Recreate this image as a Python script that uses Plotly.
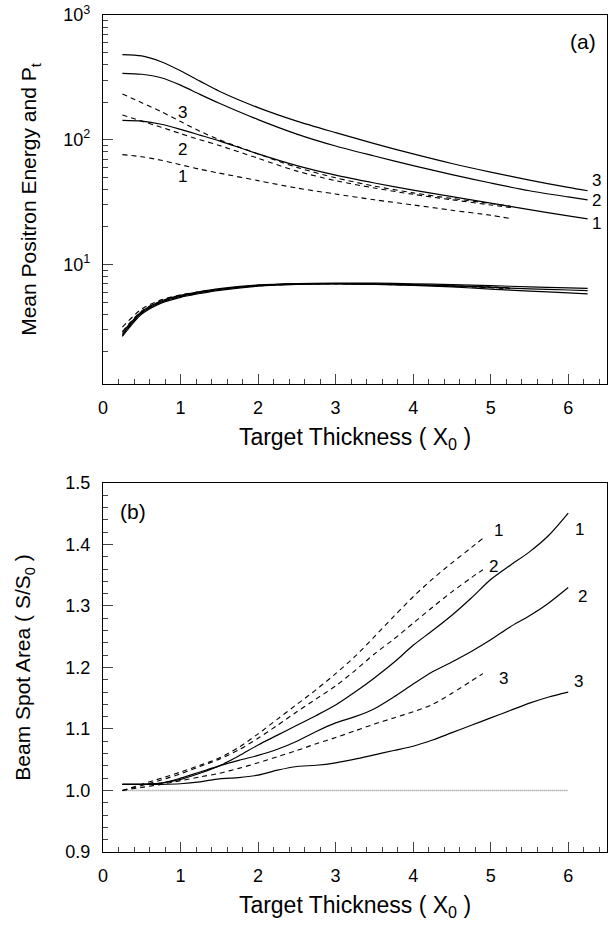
import plotly.graph_objects as go
import math

# ---------------- Data: panel (a) ----------------
x_e_solid = [0.25, 0.5, 0.75, 1.0, 1.25, 1.5, 2.0, 2.5, 3.0, 3.5, 4.0, 4.5, 5.0, 5.5, 6.0, 6.25]
e_solid_1 = [143, 141, 133, 121, 109, 98, 77, 62, 52, 45, 39.5, 35, 31, 27.5, 24.5, 23.2]
e_solid_2 = [341, 335, 314, 274, 231, 196, 145, 111, 89, 74, 62, 52.5, 45, 39, 34.8, 33]
e_solid_3 = [482, 470, 422, 357, 295, 245, 181, 141, 114, 93, 77, 64.5, 55, 47.5, 41.5, 39]

x_e_dash = [0.25, 0.5, 0.75, 1.0, 1.25, 1.5, 2.0, 2.5, 3.0, 3.5, 4.0, 4.5, 5.0, 5.26]
e_dash_1 = [76, 73, 68.5, 63, 58, 54, 47, 41, 36.7, 33, 30, 27.2, 24.8, 23.3]
e_dash_2 = [158, 141, 126, 112, 100, 90, 71, 56, 47, 41, 36.5, 33, 30, 28.6]
e_dash_3 = [233, 198, 168, 140, 117, 100, 77, 60, 49.5, 42.5, 37.5, 33.8, 30.8, 29.3]

x_pt_solid = [0.25, 0.5, 0.75, 1.0, 1.25, 1.5, 2.0, 2.5, 3.0, 3.5, 4.0, 4.5, 5.0, 5.5, 6.0, 6.25]
pt_solid_1 = [2.65, 4.0, 4.9, 5.45, 5.85, 6.2, 6.7, 6.92, 6.98, 6.93, 6.8, 6.6, 6.35, 6.12, 5.92, 5.8]
pt_solid_2 = [2.75, 4.1, 5.0, 5.55, 5.95, 6.3, 6.78, 6.98, 7.04, 7.0, 6.9, 6.75, 6.57, 6.38, 6.24, 6.17]
pt_solid_3 = [2.85, 4.2, 5.1, 5.65, 6.05, 6.4, 6.85, 7.04, 7.1, 7.08, 7.0, 6.9, 6.76, 6.62, 6.5, 6.44]

x_pt_dash = [0.25, 0.5, 0.75, 1.0, 1.25, 1.5, 2.0, 2.5, 3.0, 3.5, 4.0, 4.5, 5.0, 5.25]
pt_dash_1 = [3.15, 4.4, 5.2, 5.7, 6.05, 6.35, 6.8, 6.98, 7.0, 6.95, 6.85, 6.7, 6.5, 6.4]
pt_dash_2 = [2.9, 4.25, 5.1, 5.6, 6.0, 6.3, 6.77, 6.96, 7.0, 6.95, 6.85, 6.7, 6.55, 6.45]
pt_dash_3 = [2.7, 4.1, 5.0, 5.5, 5.9, 6.25, 6.73, 6.94, 6.98, 6.93, 6.85, 6.72, 6.6, 6.5]

# ---------------- Data: panel (b) ----------------
x_s_solid = [0.25, 0.5, 0.75, 1.0, 1.25, 1.5, 1.75, 2.0, 2.25, 2.5, 2.75, 3.0, 3.25, 3.5,
             3.75, 4.0, 4.25, 4.5, 4.75, 5.0, 5.25, 5.5, 5.75, 6.0]
s_solid_1 = [1.01, 1.01, 1.012, 1.018, 1.028, 1.04, 1.056, 1.074, 1.09, 1.106, 1.122, 1.139,
             1.16, 1.183, 1.208, 1.236, 1.26, 1.285, 1.313, 1.343, 1.366, 1.388, 1.415, 1.451]
s_solid_2 = [1.01, 1.01, 1.012, 1.02, 1.03, 1.04, 1.049, 1.057, 1.067, 1.08, 1.096, 1.11,
             1.12, 1.133, 1.152, 1.173, 1.193, 1.209, 1.226, 1.245, 1.266, 1.284, 1.305, 1.33]
s_solid_3 = [1.01, 1.01, 1.01, 1.011, 1.014, 1.019, 1.021, 1.025, 1.033, 1.039, 1.041, 1.045,
             1.051, 1.058, 1.065, 1.072, 1.082, 1.094, 1.106, 1.118, 1.13, 1.142, 1.152, 1.16]

x_s_dash = [0.25, 0.5, 0.75, 1.0, 1.25, 1.5, 1.75, 2.0, 2.25, 2.5, 2.75, 3.0, 3.25, 3.5,
            3.75, 4.0, 4.25, 4.5, 4.75, 4.9]
s_dash_1 = [1.0, 1.01, 1.02, 1.03, 1.041, 1.053, 1.07, 1.092, 1.116, 1.14, 1.164, 1.19,
            1.218, 1.25, 1.283, 1.315, 1.344, 1.37, 1.395, 1.41]
s_dash_2 = [1.0, 1.008, 1.017, 1.027, 1.039, 1.051, 1.066, 1.085, 1.106, 1.128, 1.149, 1.17,
            1.195, 1.222, 1.246, 1.272, 1.298, 1.323, 1.346, 1.359]
s_dash_3 = [1.0, 1.005, 1.01, 1.016, 1.022, 1.028, 1.036, 1.045, 1.055, 1.065, 1.076, 1.086,
            1.097, 1.108, 1.118, 1.128, 1.14, 1.158, 1.178, 1.19]

x_ref = [0.25, 6.0]
s_ref = [1.0, 1.0]

FONT = "Liberation Sans, Arial, sans-serif"
SOLID = dict(color="black", width=1.2, smoothing=0.8)
DASH = dict(color="black", width=1.1, dash="5px,4px", smoothing=0.8)

fig = go.Figure()

def add(x, y, line, xa, ya):
    fig.add_trace(go.Scatter(x=x, y=y, mode="lines", line=line, xaxis=xa, yaxis=ya,
                             line_shape="spline", showlegend=False, hoverinfo="skip"))

for ys in (e_solid_1, e_solid_2, e_solid_3):
    add(x_e_solid, ys, SOLID, "x", "y")
for ys in (e_dash_1, e_dash_2, e_dash_3):
    add(x_e_dash, ys, DASH, "x", "y")
for ys in (pt_solid_1, pt_solid_2, pt_solid_3):
    add(x_pt_solid, ys, SOLID, "x", "y")
for ys in (pt_dash_1, pt_dash_2, pt_dash_3):
    add(x_pt_dash, ys, DASH, "x", "y")

fig.add_trace(go.Scatter(x=x_ref, y=s_ref, mode="lines", xaxis="x2", yaxis="y2",
                         line=dict(color="#888888", width=1.5, dash="1px,1px"),
                         showlegend=False, hoverinfo="skip"))
for ys in (s_solid_1, s_solid_2, s_solid_3):
    add(x_s_solid, ys, SOLID, "x2", "y2")
for ys in (s_dash_1, s_dash_2, s_dash_3):
    add(x_s_dash, ys, DASH, "x2", "y2")

tickfont = dict(family=FONT, size=18, color="black")
xtitlefont = dict(family=FONT, size=23, color="black")
ytitlefont = dict(family=FONT, size=21, color="black")

xcommon = dict(range=[0, 6.5], dtick=1, tick0=0, ticks="inside", ticklen=10, tickwidth=1.2,
               showline=True, linecolor="black", linewidth=1.3, mirror=True,
               showgrid=False, zeroline=False, tickfont=tickfont, automargin=False,
               ticklabelstandoff=7,
               minor=dict(ticks="inside", ticklen=5, dtick=0.2, tickwidth=1.1, showgrid=False))

fig.update_layout(
    width=612, height=928,
    margin=dict(l=103, r=5, t=15, b=76),
    paper_bgcolor="white", plot_bgcolor="white",
    font=dict(family=FONT, color="black"),
    xaxis=dict(xcommon, anchor="y", domain=[0, 1],
               title=dict(text="Target Thickness ( X<sub>0</sub> )", font=xtitlefont, standoff=12)),
    yaxis=dict(type="log", range=[math.log10(1.1), 3], domain=[0.5591, 1], anchor="x",
               tickvals=[10, 100, 1000], ticktext=["10<sup>1</sup>", "10<sup>2</sup>", "10<sup>3</sup>"],
               ticks="inside", ticklen=10, tickwidth=1.2, tickfont=tickfont,
               showline=True, linecolor="black", linewidth=1.3, mirror=True,
               showgrid=False, zeroline=False, automargin=False, ticklabelstandoff=8,
               minor=dict(ticks="inside", ticklen=5, tickwidth=1.1, showgrid=False,
                          tickvals=[2, 3, 4, 5, 6, 7, 8, 9, 20, 30, 40, 50, 60, 70, 80, 90,
                                    200, 300, 400, 500, 600, 700, 800, 900]),
               title=dict(text="Mean Positron Energy and P<sub>t</sub>", font=ytitlefont, standoff=20)),
    xaxis2=dict(xcommon, anchor="y2", domain=[0, 1],
                title=dict(text="Target Thickness ( X<sub>0</sub> )", font=xtitlefont, standoff=12)),
    yaxis2=dict(range=[0.9, 1.5], domain=[0, 0.4409], anchor="x2", dtick=0.1, tick0=0.9,
                tickformat=".1f",
                ticks="inside", ticklen=10, tickwidth=1.2, tickfont=tickfont,
                showline=True, linecolor="black", linewidth=1.3, mirror=True,
                showgrid=False, zeroline=False, automargin=False, ticklabelstandoff=8,
                minor=dict(ticks="inside", ticklen=5, dtick=0.02, tickwidth=1.1, showgrid=False),
                title=dict(text="Beam Spot Area ( S/S<sub>0</sub> )", font=ytitlefont, standoff=28)),
)

lab = dict(family=FONT, size=17, color="black")
anns = [
    # panel (a)
    dict(x=1.03, y=2.217, text="3", xref="x", yref="y"),
    dict(x=1.03, y=1.92, text="2", xref="x", yref="y"),
    dict(x=1.02, y=1.703, text="1", xref="x", yref="y"),
    dict(x=6.37, y=1.671, text="3", xref="x", yref="y"),
    dict(x=6.37, y=1.51, text="2", xref="x", yref="y"),
    dict(x=6.37, y=1.325, text="1", xref="x", yref="y"),
    dict(x=6.19, y=2.787, text="(a)", xref="x", yref="y", font=dict(family=FONT, size=21, color="black")),
    # panel (b)
    dict(x=5.1, y=1.422, text="1", xref="x2", yref="y2"),
    dict(x=5.03, y=1.364, text="2", xref="x2", yref="y2"),
    dict(x=5.16, y=1.182, text="3", xref="x2", yref="y2"),
    dict(x=6.14, y=1.424, text="1", xref="x2", yref="y2"),
    dict(x=6.19, y=1.315, text="2", xref="x2", yref="y2"),
    dict(x=6.13, y=1.177, text="3", xref="x2", yref="y2"),
    dict(x=0.39, y=1.453, text="(b)", xref="x2", yref="y2", font=dict(family=FONT, size=21, color="black")),
]
for a in anns:
    a.setdefault("font", lab)
    a.update(showarrow=False, xanchor="center", yanchor="middle")
    fig.add_annotation(**a)

fig.write_html("out.html", config={"displayModeBar": False},
               post_script="document.body.style.margin='0';document.body.style.padding='0';")
